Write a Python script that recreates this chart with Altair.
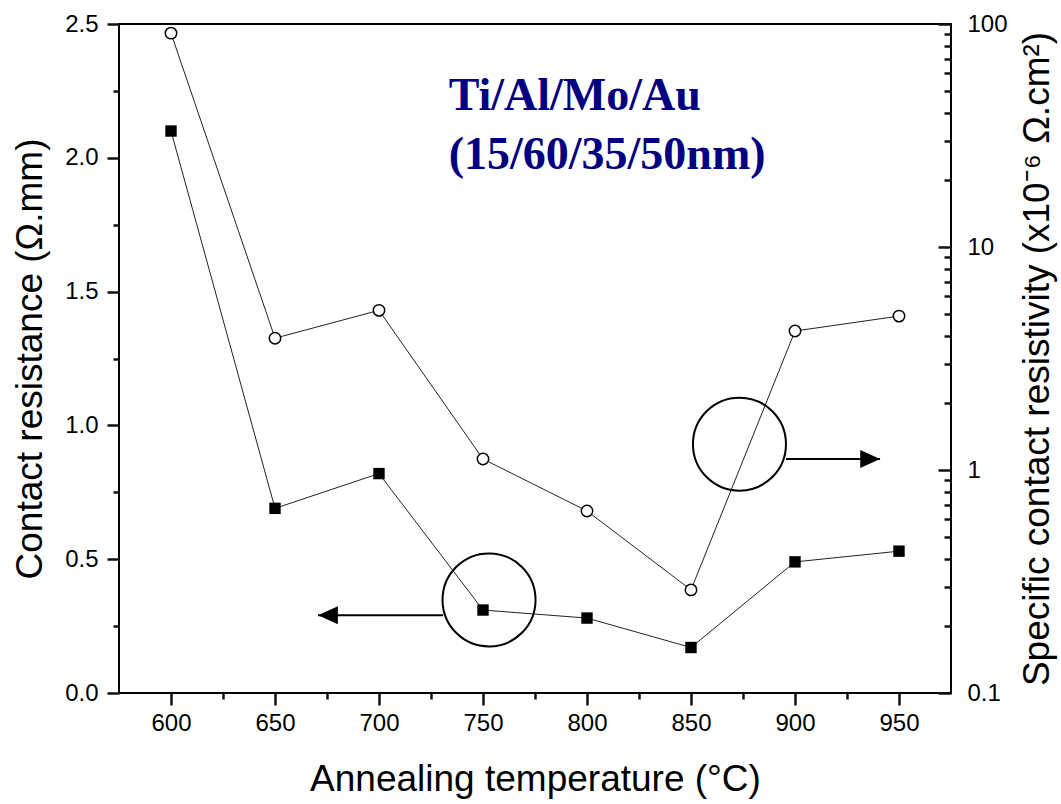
import altair as alt
import pandas as pd

# ---- data ----
temps = [600, 650, 700, 750, 800, 850, 900, 950]
contact_resistance = [2.10, 0.69, 0.82, 0.31, 0.28, 0.17, 0.49, 0.53]      # Ohm.mm (left axis)
specific_resistivity = [91, 3.9, 5.2, 1.12, 0.655, 0.29, 4.2, 4.9]         # x1e-6 Ohm.cm^2 (right axis, log)

x_major = [600, 650, 700, 750, 800, 850, 900, 950]
x_minor = [625, 675, 725, 775, 825, 875, 925]
left_major = [0.0, 0.5, 1.0, 1.5, 2.0, 2.5]
left_minor = [0.25, 0.75, 1.25, 1.75, 2.25]
right_major = [0.1, 1, 10, 100]
right_minor = [0.2, 0.3, 0.4, 0.5, 0.6, 0.7, 0.8, 0.9,
               2, 3, 4, 5, 6, 7, 8, 9,
               20, 30, 40, 50, 60, 70, 80, 90]

label_lines = ["Ti/Al/Mo/Au", "(15/60/35/50nm)"]
label_x = [733.5, 733.5]
label_y = [2.18, 1.96]

ring_x = [752.9, 873.3]
ring_y = [0.348, 0.930]

arrow_start = [730.8, 895.7]
arrow_end = [670.7, 940.9]
arrow_y = [0.291, 0.874]

df = pd.DataFrame({"T": temps, "Rc": contact_resistance, "rho": specific_resistivity})
df_label = pd.DataFrame({"x": label_x, "y": label_y, "text": label_lines})
df_ring = pd.DataFrame({"x": ring_x, "y": ring_y})
df_arrow = pd.DataFrame({"x": arrow_start, "x2": arrow_end, "y": arrow_y})
df_head_left = df_arrow.iloc[[0]]
df_head_right = df_arrow.iloc[[1]]

W, H = 832, 669
FONT = "Liberation Sans"
INK = "#111111"

x_scale = alt.Scale(domain=[575, 975], nice=False, zero=False)
yl_scale = alt.Scale(domain=[0, 2.5], nice=False, zero=False)
yr_scale = alt.Scale(type="log", domain=[0.1, 100], nice=False)


def X(field, axis=None):
    return alt.X(field, type="quantitative", scale=x_scale, axis=axis)


def YL(field, axis=None):
    return alt.Y(field, type="quantitative", scale=yl_scale, axis=axis)


def YR(field, axis=None):
    return alt.Y(field, type="quantitative", scale=yr_scale, axis=axis)


x_main_axis = alt.Axis(orient="bottom", values=x_major, format="d", tickSize=12, labelFontSize=24,
                       labelPadding=6, grid=False, labelFlush=False, domain=False,
                       tickColor=INK, tickWidth=2.5,
                       title="Annealing temperature (°C)", titleFontSize=37,
                       titleX=W / 2, titleY=86, titleBaseline="middle", titleAlign="center")
x_minor_axis = alt.Axis(orient="bottom", values=x_minor, tickSize=6, labels=False, domain=False,
                        grid=False, title="", tickColor=INK, tickWidth=2.5)

left_axis = alt.Axis(orient="left", values=left_major, format=".1f", tickSize=12,
                     labelFontSize=24, labelPadding=9, domain=False, grid=False, labelOverlap=False,
                     title="Contact resistance (Ω.mm)", titleFontSize=37,
                     titleX=-89, titleY=H / 2, titleBaseline="middle", titleAlign="center", titleAngle=270,
                     tickColor=INK, tickWidth=2.5)
left_minor_axis = alt.Axis(orient="left", values=left_minor, tickSize=6, labels=False,
                           domain=False, grid=False, title="", tickColor=INK, tickWidth=2.5)

right_axis = alt.Axis(orient="right", values=right_major, format="~g", ticks=False,
                      labelFontSize=24, labelPadding=16, domain=False, grid=False, labelOverlap=False,
                      title="Specific contact resistivity (x10⁻⁶ Ω.cm²)", titleFontSize=37,
                      titleX=86, titleY=H / 2, titleBaseline="middle", titleAlign="center", titleAngle=270)
right_major_ticks = alt.Axis(orient="left", offset=-W, values=right_major, tickSize=13,
                             labels=False, domain=False, grid=False, title="",
                             tickColor=INK, tickWidth=2.5)
right_minor_ticks = alt.Axis(orient="left", offset=-W, values=right_minor, tickSize=7,
                             labels=False, domain=False, grid=False, title="",
                             tickColor=INK, tickWidth=2.5)

base = alt.Chart(df)

sq_line = base.mark_line(color="#222222", strokeWidth=1).encode(
    x=X("T", x_main_axis), y=YL("Rc", left_axis))
sq_pts = base.mark_point(shape="square", filled=True, size=130, color="black", opacity=1).encode(
    x=X("T", x_minor_axis), y=YL("Rc", left_minor_axis))

ci_line = base.mark_line(color="#222222", strokeWidth=1).encode(
    x=X("T"), y=YR("rho", right_axis))
ci_pts = base.mark_point(shape="circle", filled=True, fill="white", stroke="black",
                         strokeWidth=1.5, size=130, opacity=1).encode(
    x=X("T"), y=YR("rho", right_major_ticks))
ci_minor = base.mark_point(opacity=0).encode(
    x=X("T"), y=YR("rho", right_minor_ticks))

label = alt.Chart(df_label).mark_text(align="left", baseline="alphabetic", font="Liberation Serif",
                                      fontWeight="bold", fontSize=46, color="#000080").encode(
    x=X("x"), y=YL("y"), text="text:N")

rings = alt.Chart(df_ring).mark_point(shape="circle", filled=False, size=8649, stroke="black",
                                      strokeWidth=2, opacity=1).encode(x=X("x"), y=YL("y"))

arrows = alt.Chart(df_arrow).mark_rule(color="black", strokeWidth=2).encode(
    x=X("x"), x2="x2", y=YL("y"))
head_left = alt.Chart(df_head_left).mark_point(shape="M0,0L2.2,-1L2.2,1Z", filled=True, size=324,
                                               color="black", opacity=1).encode(x=X("x2"), y=YL("y"))
head_right = alt.Chart(df_head_right).mark_point(shape="M0,0L-2.2,-1L-2.2,1Z", filled=True, size=324,
                                                 color="black", opacity=1).encode(x=X("x2"), y=YL("y"))

chart = alt.layer(
    sq_line, ci_line, rings, arrows, head_left, head_right, sq_pts, ci_pts, ci_minor, label
).resolve_scale(y="independent").resolve_axis(x="independent", y="independent").properties(
    width=W, height=H,
    autosize=alt.AutoSizeParams(type="none"),
    padding={"left": 119, "top": 24, "right": 1061 - 119 - W, "bottom": 804 - 24 - H},
    background="white",
).configure_view(stroke="black", strokeWidth=2).configure_axis(
    labelFont=FONT, titleFont=FONT, labelColor="black", titleColor="black",
    titleFontWeight="normal"
)

chart.save("out.html", embed_options={"renderer": "svg", "actions": False})
